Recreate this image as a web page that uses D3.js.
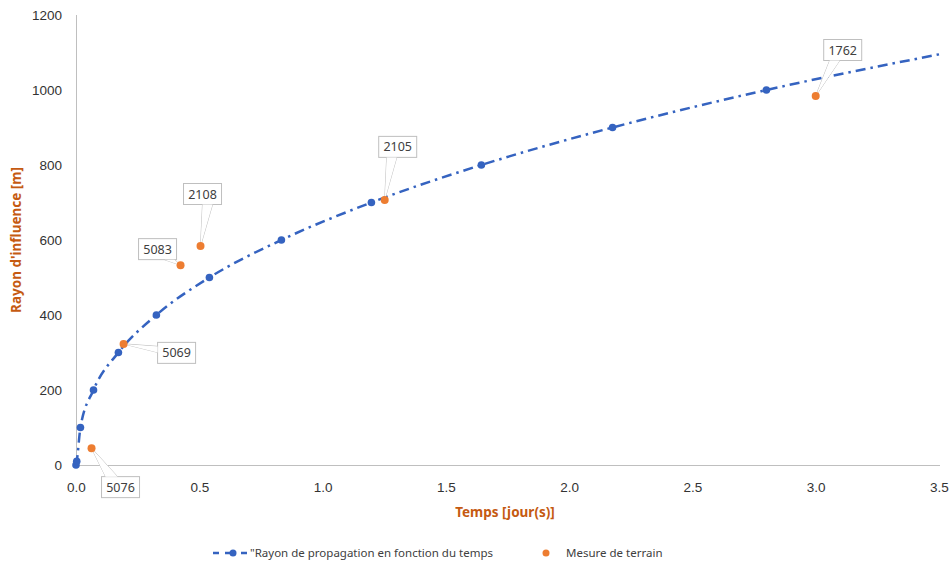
<!DOCTYPE html>
<html>
<head>
<meta charset="utf-8">
<script src="https://cdn.jsdelivr.net/npm/d3@7"></script>
<style>
  body { margin: 0; background: #fff; }
  svg text { font-family: "Comic Sans MS", "Noto Sans", sans-serif; }
  .tick text { font-family: "Liberation Sans", Arial, sans-serif; font-size: 13.5px; fill: #333; }
</style>
</head>
<body>
<svg id="chart" width="951" height="565"></svg>
<script>
// theoretical curve: radius of influence vs time
const curveTime = [0, 0.003, 0.018, 0.071, 0.172, 0.326, 0.541, 0.833, 1.198, 1.644, 2.176, 2.80];
const curveRadius = [0, 10, 100, 200, 300, 400, 500, 600, 700, 800, 900, 1000];
// where the line leaves the plot on the right (no marker there)
const curveEndTime = 3.5;
const curveEndRadius = 1095;

// field measurements
const fieldTime = [0.063, 0.193, 0.424, 0.505, 1.252, 3.0];
const fieldRadius = [45, 323, 533, 584, 707, 984];
const fieldLabels = ["5076", "5069", "5083", "2108", "2105", "1762"];

const xTicks = [0, 0.5, 1, 1.5, 2, 2.5, 3, 3.5];
const yTicks = [0, 200, 400, 600, 800, 1000, 1200];

// callout box placement, relative to the point (layout only)
const calloutOffsets = [
  { dx: 29, dy: 39, side: "top" },
  { dx: 53, dy: 9, side: "left" },
  { dx: -23, dy: -16, side: "bottom" },
  { dx: 2, dy: -52, side: "bottom" },
  { dx: 13, dy: -53, side: "bottom" },
  { dx: 27, dy: -46, side: "bottom" }
];

const svg = d3.select("#chart");
const blue = "#3563C0";
const orange = "#ED7D31";
const titleColor = "#C55A11";

const x = d3.scaleLinear().domain([0, 3.5]).range([76, 939]);
const y = d3.scaleLinear().domain([0, 1200]).range([465, 15]);

// axes
const xAxis = svg.append("g")
    .attr("transform", "translate(0,465)")
    .call(d3.axisBottom(x).tickValues(xTicks).tickFormat(d3.format(".1f")).tickSize(0).tickPadding(17));
xAxis.select(".domain").attr("stroke", "#bfbfbf").attr("d", "M76,0.5H940");

const yAxis = svg.append("g")
    .attr("transform", "translate(76,0)")
    .call(d3.axisLeft(y).tickValues(yTicks).tickFormat(d3.format("d")).tickSize(0).tickPadding(14));
yAxis.select(".domain").attr("stroke", "#bfbfbf").attr("d", "M0.5,15V465");

// axis titles
svg.append("text")
    .attr("transform", "translate(21,240) rotate(-90)")
    .attr("text-anchor", "middle")
    .attr("font-size", 13.5)
    .attr("font-weight", "bold")
    .attr("fill", titleColor)
    .text("Rayon d'influence [m]");

svg.append("text")
    .attr("x", 505)
    .attr("y", 517)
    .attr("text-anchor", "middle")
    .attr("font-size", 13.5)
    .attr("font-weight", "bold")
    .attr("fill", titleColor)
    .text("Temps [jour(s)]");

// curve
const curvePts = curveTime.map((t, i) => [t, curveRadius[i]]);
curvePts.push([curveEndTime, curveEndRadius]);
const line = d3.line()
    .x(d => x(d[0]))
    .y(d => y(d[1]))
    .curve(d3.curveMonotoneX);

svg.append("path")
    .datum(curvePts)
    .attr("d", line)
    .attr("fill", "none")
    .attr("stroke", blue)
    .attr("stroke-width", 2.5)
    .attr("stroke-dasharray", "10,5,2.5,5");

svg.selectAll("circle.curve").data(curveTime)
    .join("circle")
    .attr("class", "curve")
    .attr("cx", d => x(d))
    .attr("cy", (d, i) => y(curveRadius[i]))
    .attr("r", 3.8)
    .attr("fill", blue);

// callouts
const field = fieldTime.map((t, i) => ({
  px: x(t), py: y(fieldRadius[i]), label: fieldLabels[i], off: calloutOffsets[i]
}));

const bw = 38, bh = 21;
const callouts = svg.append("g");
field.forEach(d => {
  const cx = d.px + d.off.dx, cy = d.py + d.off.dy;
  const left = cx - bw / 2, top = cy - bh / 2;
  let b1, b2;
  if (d.off.side === "top") {
    b1 = [left + 4, top]; b2 = [left + 16, top];
  } else if (d.off.side === "left") {
    b1 = [left, top + 4]; b2 = [left, top + 10];
  } else {
    const bx = Math.min(Math.max(d.px, left + 4), left + bw - 14);
    b1 = [bx + 2, top + bh]; b2 = [bx + 12, top + bh];
  }
  const wedge = [b1, [d.px, d.py], b2];
  callouts.append("path")
      .attr("d", "M" + wedge.join("L"))
      .attr("fill", "#fff")
      .attr("stroke", "#bfbfbf")
      .attr("stroke-width", 1);
  callouts.append("rect")
      .attr("x", left).attr("y", top)
      .attr("width", bw).attr("height", bh)
      .attr("fill", "#fff")
      .attr("stroke", "#bfbfbf");
  callouts.append("path")
      .attr("d", "M" + wedge.join("L") + "Z")
      .attr("fill", "#fff")
      .attr("stroke", "none");
  callouts.append("text")
      .attr("x", cx).attr("y", cy + 4.5)
      .attr("text-anchor", "middle")
      .attr("font-family", "Liberation Sans, Arial, sans-serif")
      .attr("font-size", 12.5)
      .attr("fill", "#404040")
      .text(d.label);
});

svg.selectAll("circle.field").data(field)
    .join("circle")
    .attr("class", "field")
    .attr("cx", d => d.px)
    .attr("cy", d => d.py)
    .attr("r", 4)
    .attr("fill", orange);

// legend
const legend = svg.append("g").attr("transform", "translate(0,553)");
legend.append("line")
    .attr("x1", 213).attr("x2", 247)
    .attr("stroke", blue).attr("stroke-width", 2.5)
    .attr("stroke-dasharray", "6,6,10");
legend.append("circle").attr("cx", 233).attr("r", 3.5).attr("fill", blue);
legend.append("text")
    .attr("x", 250).attr("y", 4)
    .attr("font-size", 11.5)
    .attr("fill", "#404040")
    .text("\"Rayon de propagation en fonction du temps");
legend.append("circle").attr("cx", 546).attr("r", 3.5).attr("fill", orange);
legend.append("text")
    .attr("x", 566).attr("y", 4)
    .attr("font-size", 11.5)
    .attr("fill", "#404040")
    .text("Mesure de terrain");
</script>
</body>
</html>
